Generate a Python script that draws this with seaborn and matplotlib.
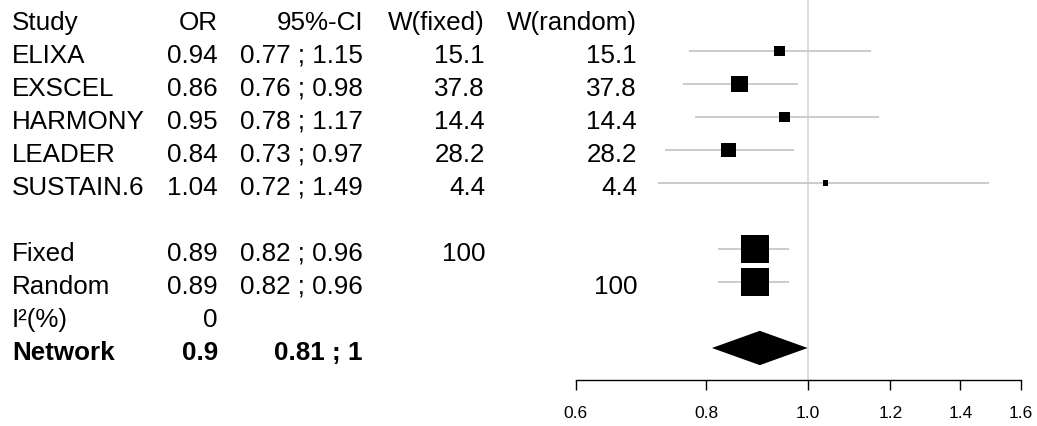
import numpy as np
import pandas as pd
import matplotlib
matplotlib.use("Agg")
import matplotlib.pyplot as plt
import matplotlib.transforms as mtransforms
from matplotlib.ticker import FixedLocator, FixedFormatter, NullLocator
import seaborn as sns

# ---------------- data ----------------
studies = ["ELIXA", "EXSCEL", "HARMONY", "LEADER", "SUSTAIN.6"]
study_or = [0.94, 0.86, 0.95, 0.84, 1.04]
study_lo = [0.77, 0.76, 0.78, 0.73, 0.72]
study_hi = [1.15, 0.98, 1.17, 0.97, 1.49]
study_w_fixed = [15.1, 37.8, 14.4, 28.2, 4.4]
study_w_random = [15.1, 37.8, 14.4, 28.2, 4.4]

pooled_labels = ["Fixed", "Random"]
pooled_or = [0.89, 0.89]
pooled_lo = [0.82, 0.82]
pooled_hi = [0.96, 0.96]
pooled_weight = [100, 100]
pooled_w_fixed = ["100", ""]
pooled_w_random = ["", "100"]

i2_label = "I²(%)"
i2_value = "0"

network_label = "Network"
network_or = 0.9
network_lo = 0.81
network_hi = 1.0

headers = ["Study", "OR", "95%-CI", "W(fixed)", "W(random)"]
tick_values = [0.6, 0.8, 1.0, 1.2, 1.4, 1.6]
tick_labels = ["0.6", "0.8", "1.0", "1.2", "1.4", "1.6"]

# ---------------- style ----------------
sns.set_theme(style="white")
plt.rcParams["font.family"] = ["Liberation Sans", "DejaVu Sans"]

W, H = 1037, 426
fig = plt.figure(figsize=(W / 100, H / 100), dpi=100)
ax = fig.add_axes([575.7 / W, (H - 380) / H, (1021 - 575.7) / W, 380 / H])

# row layout
study_rows = [1, 2, 3, 4, 5]
pooled_rows = [7, 8]
i2_row = 9
network_row = 10

ax.set_xscale("log")
ax.set_xlim(0.6, 1.6)
ax.set_ylim(10.97, -0.545)

# reference line
ax.axvline(1.0, color="#d3d3d3", lw=1.1, zorder=0)

# confidence intervals
ci_df = pd.DataFrame({
    "row": study_rows + pooled_rows,
    "lo": study_lo + pooled_lo,
    "hi": study_hi + pooled_hi,
})
ax.hlines(ci_df["row"], ci_df["lo"], ci_df["hi"], color="#bfbfbf", lw=1.1, zorder=1)

# squares (area proportional to weight)
sq_df = pd.DataFrame({
    "or": study_or + pooled_or,
    "row": study_rows + pooled_rows,
    "w": study_w_fixed + pooled_weight,
})
sns.scatterplot(data=sq_df, x="or", y="row", marker="s", s=sq_df["w"].to_numpy() * 3.95,
                color="black", linewidth=0, legend=False, ax=ax, zorder=3)

# network diamond
ax.fill([network_lo, network_or, network_hi, network_or],
        [network_row, network_row - 0.52, network_row, network_row + 0.52],
        color="black", lw=0, zorder=3)

# axes styling
for s in ["top", "left", "right"]:
    ax.spines[s].set_visible(False)
ax.spines["bottom"].set_color("black")
ax.spines["bottom"].set_linewidth(1.0)
ax.xaxis.set_major_locator(FixedLocator(tick_values))
ax.xaxis.set_major_formatter(FixedFormatter(tick_labels))
ax.xaxis.set_minor_locator(NullLocator())
ax.tick_params(axis="x", which="major", direction="out", length=7.2, width=1.0,
               color="black", labelsize=12.5, pad=11.2, bottom=True, labelcolor="black")
ax.set_yticks([])
ax.set_xlabel("")
ax.set_ylabel("")
ax.patch.set_alpha(0)

# ---------------- text columns ----------------
trans = mtransforms.blended_transform_factory(fig.transFigure, ax.transData)
fs = 18.7
dy = 0.36
col_study = 12 / W
col_or = 218 / W
col_ci = 363 / W
col_wf = 485 / W
col_wr = 637 / W


def put(x, row, s, ha, bold=False):
    ax.text(x, row + dy, s, transform=trans, ha=ha, va="baseline", fontsize=fs,
            fontweight="bold" if bold else "normal", color="black", clip_on=False)


put(col_study, 0, headers[0], "left")
put(col_or, 0, headers[1], "right")
put(col_ci, 0, headers[2], "right")
put(col_wf, 0, headers[3], "right")
put(col_wr, 0, headers[4], "right")

for r, name, o, lo, hi, wf, wr in zip(study_rows, studies, study_or, study_lo, study_hi,
                                      study_w_fixed, study_w_random):
    put(col_study, r, name, "left")
    put(col_or, r, f"{o:.2f}", "right")
    put(col_ci, r, f"{lo:.2f} ; {hi:.2f}", "right")
    put(col_wf, r, f"{wf:.1f}", "right")
    put(col_wr, r, f"{wr:.1f}", "right")

for r, name, o, lo, hi, wf, wr in zip(pooled_rows, pooled_labels, pooled_or, pooled_lo,
                                      pooled_hi, pooled_w_fixed, pooled_w_random):
    put(col_study, r, name, "left")
    put(col_or, r, f"{o:.2f}", "right")
    put(col_ci, r, f"{lo:.2f} ; {hi:.2f}", "right")
    if wf:
        put(col_wf, r, wf, "right")
    if wr:
        put(col_wr, r, wr, "right")

put(col_study, i2_row, i2_label, "left")
put(col_or, i2_row, i2_value, "right")

put(col_study, network_row, network_label, "left", bold=True)
put(col_or, network_row, f"{network_or:g}", "right", bold=True)
put(col_ci, network_row, f"{network_lo:g} ; {network_hi:g}", "right", bold=True)

fig.savefig("out.png", dpi=100)
